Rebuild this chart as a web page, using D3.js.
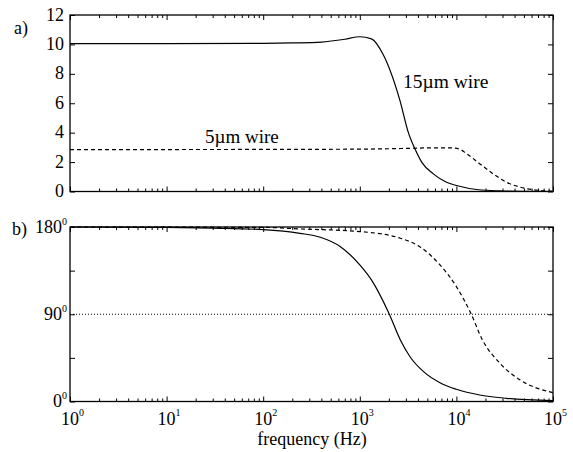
<!DOCTYPE html>
<html lang="en">
<head>
  <meta charset="utf-8">
  <title>Wire response</title>
  <script src="https://cdnjs.cloudflare.com/ajax/libs/d3/7.8.5/d3.min.js"></script>
  <style>
    body { margin: 0; background: #fff; }
    .axis path, .axis line { stroke: #000; }
  </style>
</head>
<body>
  <script>
    var width = 573, height = 452;

    // amplitude, 15um wire (solid) and 5um wire (dashed)
    var ampFreq15 = [1, 10, 100, 200, 400, 700, 1000, 1320, 1750, 2600, 3170, 3720, 4370, 5770, 7900, 10000, 17000, 28000, 50000, 100000];
    var amp15     = [10.05, 10.05, 10.07, 10.1, 10.16, 10.35, 10.52, 10.38, 9.3, 6.2, 4.04, 2.9, 2.0, 1.2, 0.63, 0.41, 0.12, 0.04, 0.01, 0.0];
    var ampFreq5  = [1, 100, 1000, 3000, 6000, 9000, 11000, 12600, 17400, 24000, 33000, 46000, 74000, 100000];
    var amp5      = [2.85, 2.86, 2.88, 2.93, 2.97, 2.96, 2.85, 2.6, 1.89, 1.2, 0.63, 0.29, 0.07, 0.02];

    // phase in degrees
    var phFreq15 = [1, 10, 30, 100, 240, 390, 630, 1000, 1320, 2000, 2630, 3310, 4570, 6760, 10000, 17400, 33000, 100000];
    var ph15     = [180, 179.6, 178.8, 177.3, 173.5, 169.4, 159.7, 140.9, 125.4, 91, 63.5, 46.2, 30.8, 19.4, 12.6, 6.7, 3.3, 0.8];
    var phFreq5  = [1, 100, 240, 1000, 2630, 4170, 6760, 10000, 14100, 18600, 28200, 45700, 100000];
    var ph5      = [180, 179.6, 178, 175.3, 168.4, 159.7, 140.9, 118.5, 91, 63.5, 39.4, 22.2, 9.1];

    var decades = [1, 10, 100, 1000, 10000, 100000];
    var ampTicks = [0, 2, 4, 6, 8, 10, 12];
    var phTicks = [0, 45, 90, 135, 180];
    var phLabels = [0, 90, 180];

    var minorTicks = [];
    decades.slice(0, -1).forEach(function(d) {
      for (var k = 2; k <= 9; k++) minorTicks.push(d * k);
    });

    var serif = "'Liberation Serif'";

    var svg = d3.select("body").append("svg")
      .attr("width", width).attr("height", height);
    svg.append("rect").attr("width", width).attr("height", height).attr("fill", "#fff");

    var x = d3.scaleLog().domain([1, 100000]).range([70, 553]);
    var yA = d3.scaleLinear().domain([0, 12]).range([191.5, 15]);
    var yP = d3.scaleLinear().domain([0, 180]).range([401.5, 227]);

    function noDomain(s) { s.select(".domain").remove(); }

    function drawFrame(y, top, bottom, yTicks) {
      var g = svg.append("g");
      // ticks point inward, on all four sides
      g.append("g").attr("class", "axis").attr("transform", "translate(0," + bottom + ")")
        .call(d3.axisBottom(x).tickValues(minorTicks).tickSize(-3).tickFormat("")).call(noDomain);
      g.append("g").attr("class", "axis").attr("transform", "translate(0," + top + ")")
        .call(d3.axisTop(x).tickValues(minorTicks).tickSize(-3).tickFormat("")).call(noDomain);
      g.append("g").attr("class", "axis").attr("transform", "translate(0," + bottom + ")")
        .call(d3.axisBottom(x).tickValues(decades).tickSize(-5).tickFormat("")).call(noDomain);
      g.append("g").attr("class", "axis").attr("transform", "translate(0," + top + ")")
        .call(d3.axisTop(x).tickValues(decades).tickSize(-5).tickFormat("")).call(noDomain);
      g.append("g").attr("class", "axis").attr("transform", "translate(70,0)")
        .call(d3.axisLeft(y).tickValues(yTicks).tickSize(-5).tickFormat("")).call(noDomain);
      g.append("g").attr("class", "axis").attr("transform", "translate(553,0)")
        .call(d3.axisRight(y).tickValues(yTicks).tickSize(-5).tickFormat("")).call(noDomain);
      g.append("rect").attr("x", 70).attr("y", top).attr("width", 483).attr("height", bottom - top)
        .attr("fill", "none").attr("stroke", "#000").attr("stroke-width", 1.3);
    }

    function line(y) {
      return d3.line().curve(d3.curveMonotoneX)
        .x(function(d) { return x(d[0]); }).y(function(d) { return y(d[1]); });
    }

    function label(txt, px, py, size, anchor) {
      return svg.append("text").attr("x", px).attr("y", py)
        .attr("text-anchor", anchor || "start")
        .style("font-family", serif).style("font-size", size + "px").text(txt);
    }

    // ---- panel a) amplitude
    drawFrame(yA, 15, 191.5, ampTicks);
    svg.selectAll(".alab").data(ampTicks).enter().append("text")
      .attr("x", 64).attr("y", function(d) { return yA(d) + 5.5; })
      .attr("text-anchor", "end").style("font-family", serif).style("font-size", "18px")
      .text(function(d) { return d; });

    svg.append("path").datum(d3.zip(ampFreq15, amp15))
      .attr("fill", "none").attr("stroke", "#000").attr("stroke-width", 1.2).attr("d", line(yA));
    svg.append("path").datum(d3.zip(ampFreq5, amp5))
      .attr("fill", "none").attr("stroke", "#000").attr("stroke-width", 1.2)
      .attr("stroke-dasharray", "4,3").attr("d", line(yA));

    label("a)", 14, 34, 18);
    label("15\u00b5m wire", 403, 88, 19.5);
    label("5\u00b5m wire", 205, 143, 19);

    // ---- panel b) phase
    drawFrame(yP, 227, 401.5, phTicks);
    svg.append("line").attr("x1", 70).attr("x2", 553).attr("y1", yP(90)).attr("y2", yP(90))
      .attr("stroke", "#000").attr("stroke-width", 1).attr("stroke-dasharray", "1,2");

    var pl = svg.selectAll(".plab").data(phLabels).enter().append("text")
      .attr("x", 67).attr("y", function(d) { return yP(d) + 5.5; })
      .attr("text-anchor", "end").style("font-family", serif).style("font-size", "18px");
    pl.append("tspan").text(function(d) { return d; });
    pl.append("tspan").attr("dy", -8).style("font-size", "10px").text("0");

    svg.append("path").datum(d3.zip(phFreq15, ph15))
      .attr("fill", "none").attr("stroke", "#000").attr("stroke-width", 1.2).attr("d", line(yP));
    svg.append("path").datum(d3.zip(phFreq5, ph5))
      .attr("fill", "none").attr("stroke", "#000").attr("stroke-width", 1.2)
      .attr("stroke-dasharray", "4,3").attr("d", line(yP));

    label("b)", 12, 235, 18);

    // decade labels 10^n, the "10" centred on the tick
    var xl = svg.selectAll(".xlab").data(decades).enter().append("text")
      .attr("x", function(d) { return x(d) - 9; }).attr("y", 425)
      .style("font-family", serif).style("font-size", "18px");
    xl.append("tspan").text("10");
    xl.append("tspan").attr("dy", -9).style("font-size", "10px")
      .text(function(d) { return Math.round(Math.log10(d)); });

    label("frequency (Hz)", 312, 445, 18, "middle");
  </script>
</body>
</html>
